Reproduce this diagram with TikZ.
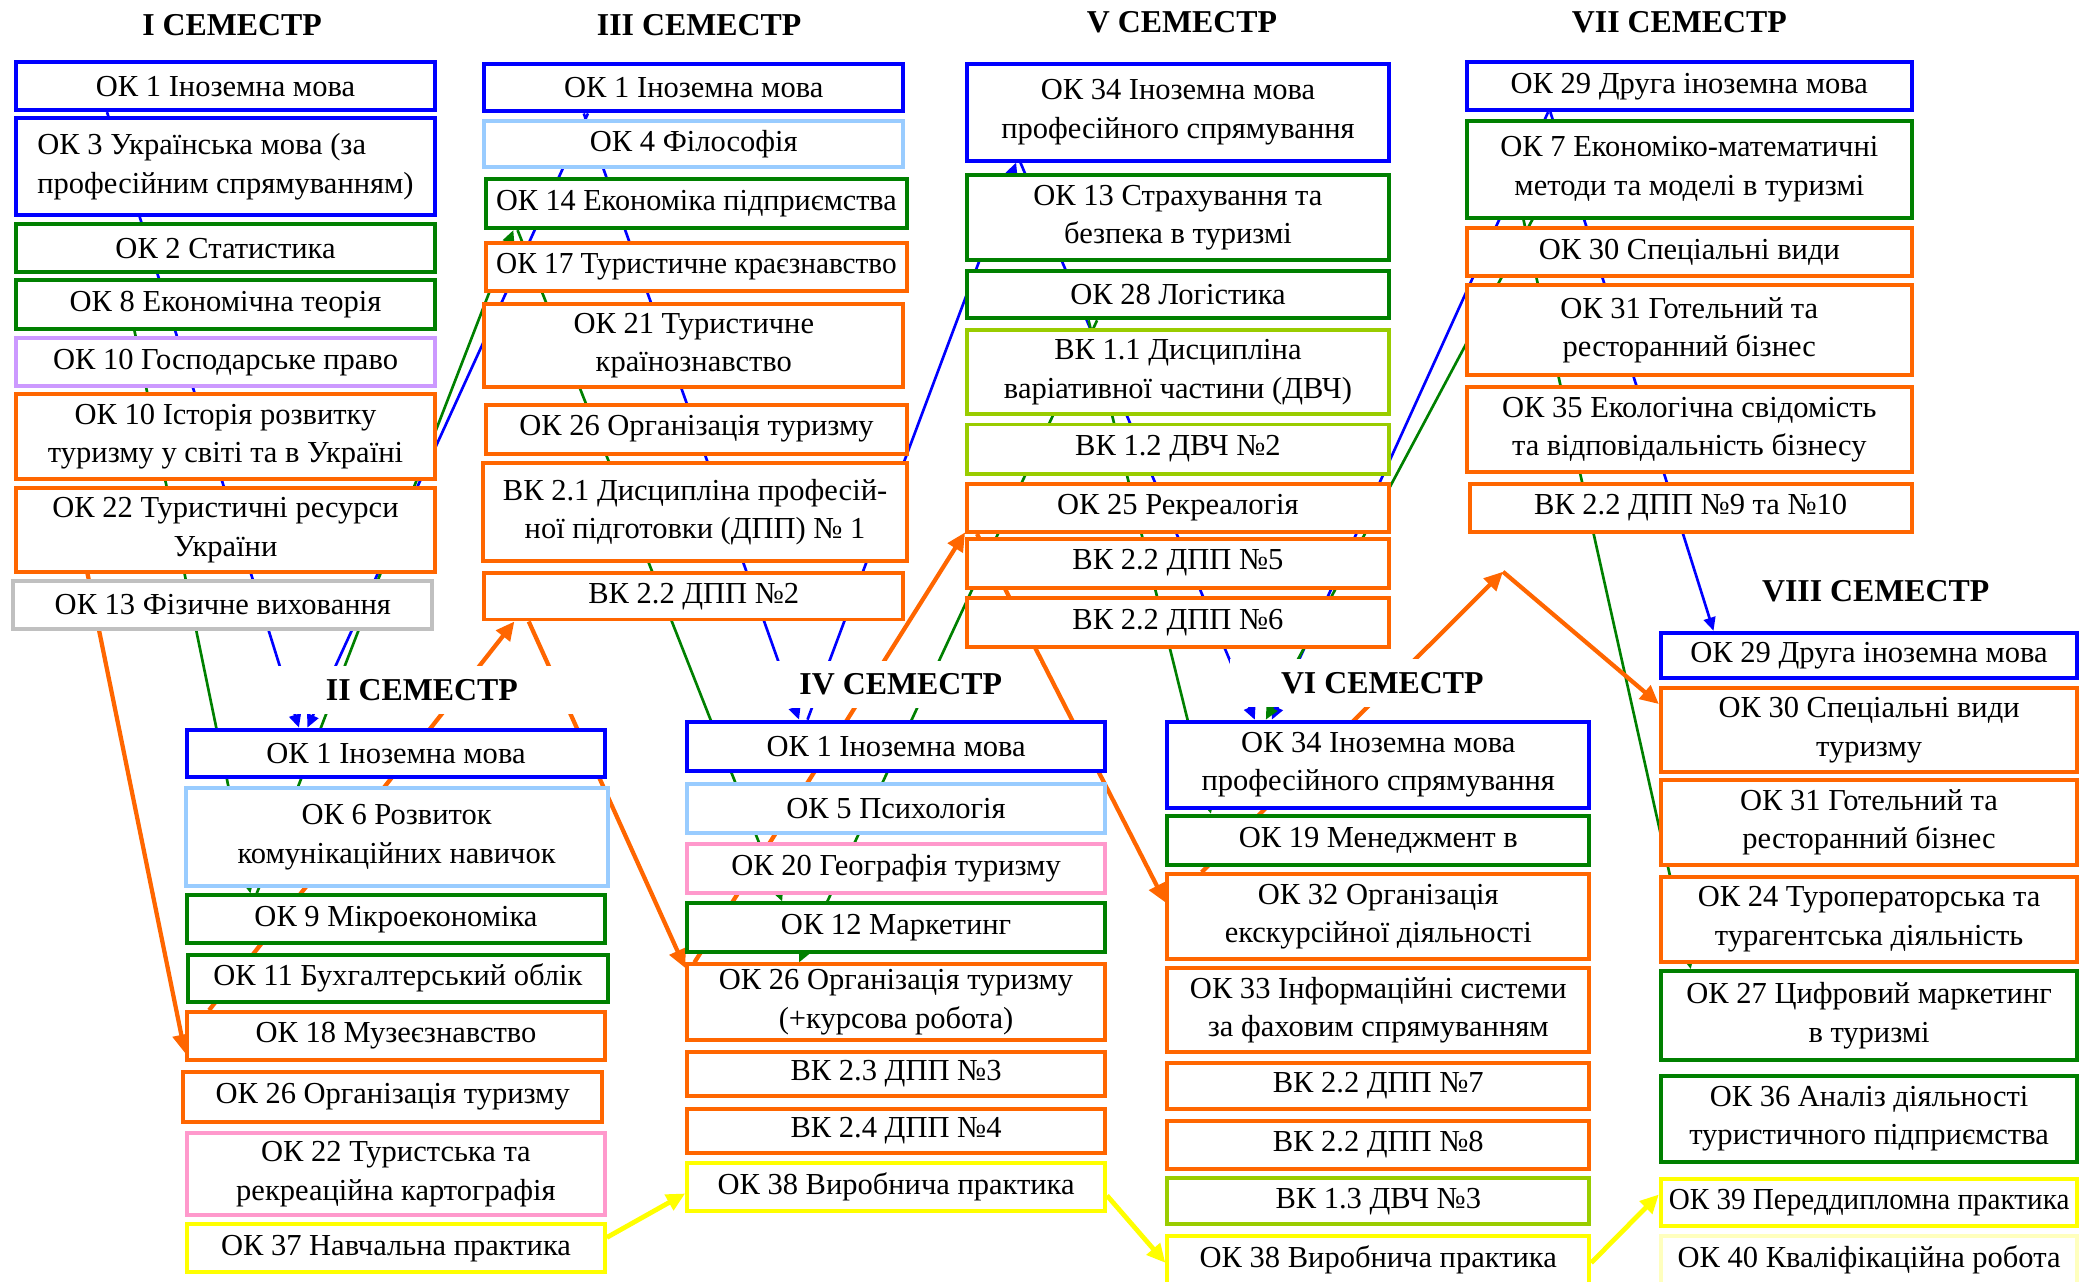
\documentclass[tikz,border=0pt]{standalone}
\usepackage{fontspec}
\setmainfont{Liberation Serif}
\usepackage{graphicx}
\usetikzlibrary{arrows.meta,calc,backgrounds}

\definecolor{cblue}{RGB}{0,0,255}
\definecolor{clblue}{RGB}{153,204,255}
\definecolor{cgreen}{RGB}{0,128,0}
\definecolor{corange}{RGB}{255,102,0}
\definecolor{clav}{RGB}{204,153,255}
\definecolor{cgrey}{RGB}{192,192,192}
\definecolor{cpink}{RGB}{255,153,204}
\definecolor{clime}{RGB}{153,204,0}
\definecolor{cyellow}{RGB}{255,255,0}
\definecolor{cpale}{RGB}{255,255,190}

\newcommand\bxfont{\fontsize{11.5}{14.5}\selectfont}
\newcommand\ttlfont{\fontsize{12}{14}\selectfont\bfseries}

\newlength\fitw
\setlength\fitw{151pt}
\newsavebox\fitbox
\newcommand\Ln[1]{\sbox\fitbox{#1}\ifdim\wd\fitbox>\fitw\relax\pgfmathsetmacro\fitfac{\the\fitw/\the\wd\fitbox}\scalebox{\fitfac}[1]{\usebox\fitbox}\else\usebox\fitbox\fi}

\tikzset{
  box/.style={draw, fill=white, line width=1.5pt, inner sep=1pt, align=center, font=\bxfont, text=black},
  bBlue/.style={draw=cblue}, bLBlue/.style={draw=clblue}, bGreen/.style={draw=cgreen},
  bOrange/.style={draw=corange}, bLav/.style={draw=clav}, bGrey/.style={draw=cgrey},
  bPink/.style={draw=cpink}, bLime/.style={draw=clime}, bYellow/.style={draw=cyellow},
  bPale/.style={draw=cpale},
  ttl/.style={font=\ttlfont, inner sep=0pt, fill=white},
  conB/.style={draw=cblue, line width=1pt, -{Triangle[length=5pt,width=4.5pt]}},
  conG/.style={draw=cgreen, line width=1pt, -{Triangle[length=5pt,width=4.5pt]}},
  conO/.style={draw=corange, line width=1.6pt, -{Triangle[length=7pt,width=6.5pt]}},
  conY/.style={draw=cyellow, line width=1.8pt, -{Triangle[length=7pt,width=6.5pt]}},
}

\newcommand\bx[7]{%
  \pgfmathsetmacro\bxw{(#5-#3)*0.5}%
  \pgfmathsetmacro\bxh{(#6-#4)*0.5}%
  \pgfmathsetmacro\bxx{(#3+#5)/2}%
  \pgfmathsetmacro\bxy{(#4+#6)/2}%
  \node[box,#2,minimum width=\bxw pt,minimum height=\bxh pt] (#1) at (\bxx,\bxy) {#7};}

\begin{document}
\begin{tikzpicture}[x=0.5pt,y=-0.5pt]
\useasboundingbox (0,0) rectangle (1568,966);

% titles
\node[ttl] (tI)    at (175,19)   {I СЕМЕСТР};
\node[ttl] (tIII)  at (527,19)   {III СЕМЕСТР};
\node[ttl] (tV)    at (891,17)   {V СЕМЕСТР};
\node[ttl] (tVII)  at (1266,17)  {VII СЕМЕСТР};
\node[ttl,minimum width=120pt,minimum height=18pt] (tII) at (318,520) {II СЕМЕСТР};
\node[ttl,minimum width=105pt,minimum height=18pt] (tIV) at (679,516) {IV СЕМЕСТР};
\node[ttl,minimum width=115pt,minimum height=18pt] (tVI) at (1042,515) {VI СЕМЕСТР};
\node[ttl] (tVIII) at (1414,446) {VIII СЕМЕСТР};

% semester I
\bx{I1}{bBlue}{12}{47}{328}{83}{\Ln{ОК 1 Іноземна мова}}
\bx{I2}{bBlue,align=left}{12}{89}{328}{162}{\Ln{ОК 3 Українська мова (за}\\\Ln{професійним спрямуванням)}}
\bx{I3}{bGreen}{12}{169}{328}{205}{\Ln{ОК 2 Статистика}}
\bx{I4}{bGreen}{12}{211}{328}{248}{\Ln{ОК 8 Економічна теорія}}
\bx{I5}{bLav}{12}{255}{328}{291}{\Ln{ОК 10 Господарське право}}
\bx{I6}{bOrange}{12}{297}{328}{361}{\Ln{ОК 10 Історія розвитку}\\\Ln{туризму у світі та в Україні}}
\bx{I7}{bOrange}{12}{368}{328}{431}{\Ln{ОК 22 Туристичні ресурси}\\\Ln{України}}
\bx{I8}{bGrey}{10}{438}{326}{474}{\Ln{ОК 13 Фізичне виховання}}

% semester III
\bx{T1}{bBlue}{365}{48}{681}{84}{\Ln{ОК 1 Іноземна мова}}
\bx{T2}{bLBlue}{365}{91}{681}{126}{\Ln{ОК 4 Філософія}}
\bx{T3}{bGreen}{366}{135}{684}{172}{\Ln{ОК 14 Економіка підприємства}}
\bx{T4}{bOrange}{366}{183}{684}{219}{\Ln{ОК 17 Туристичне краєзнавство}}
\bx{T5}{bOrange}{365}{229}{681}{292}{\Ln{ОК 21 Туристичне}\\\Ln{країнознавство}}
\bx{T6}{bOrange}{366}{305}{684}{342}{\Ln{ОК 26 Організація туризму}}
\bx{T7}{bOrange}{364}{349}{684}{423}{\Ln{ВК 2.1 Дисципліна професій-}\\\Ln{ної підготовки (ДПП) № 1}}
\bx{T8}{bOrange}{365}{432}{681}{467}{\Ln{ВК 2.2 ДПП №2}}

% semester V
\bx{F1}{bBlue}{729}{48}{1047}{121}{\Ln{ОК 34 Іноземна мова}\\\Ln{професійного спрямування}}
\bx{F2}{bGreen}{729}{132}{1047}{196}{\Ln{ОК 13 Страхування та}\\\Ln{безпека в туризмі}}
\bx{F3}{bGreen}{729}{204}{1047}{240}{\Ln{ОК 28 Логістика}}
\bx{F4}{bLime}{729}{249}{1047}{312}{\Ln{ВК 1.1 Дисципліна}\\\Ln{варіативної частини (ДВЧ)}}
\bx{F5}{bLime}{729}{320}{1047}{357}{\Ln{ВК 1.2 ДВЧ №2}}
\bx{F6}{bOrange}{729}{365}{1047}{401}{\Ln{ОК 25 Рекреалогія}}
\bx{F7}{bOrange}{729}{406}{1047}{443}{\Ln{ВК 2.2 ДПП №5}}
\bx{F8}{bOrange}{729}{451}{1047}{488}{\Ln{ВК 2.2 ДПП №6}}

% semester VII
\bx{S1}{bBlue}{1106}{47}{1441}{83}{\Ln{ОК 29 Друга іноземна мова}}
\bx{S2}{bGreen}{1106}{91}{1441}{164}{\Ln{ОК 7 Економіко-математичні}\\\Ln{методи та моделі в туризмі}}
\bx{S3}{bOrange}{1106}{172}{1441}{208}{\Ln{ОК 30 Спеціальні види}}
\bx{S4}{bOrange}{1106}{215}{1441}{283}{\Ln{ОК 31 Готельний та}\\\Ln{ресторанний бізнес}}
\bx{S5}{bOrange}{1106}{292}{1441}{356}{\Ln{ОК 35 Екологічна свідомість}\\\Ln{та відповідальність бізнесу}}
\bx{S6}{bOrange}{1108}{365}{1441}{401}{\Ln{ВК 2.2 ДПП №9 та №10}}

% semester II
\bx{II1}{bBlue}{141}{550}{456}{586}{\Ln{ОК 1 Іноземна мова}}
\bx{II2}{bLBlue}{140}{594}{458}{668}{\Ln{ОК 6 Розвиток}\\\Ln{комунікаційних навичок}}
\bx{II3}{bGreen}{141}{675}{456}{711}{\Ln{ОК 9 Мікроекономіка}}
\bx{II4}{bGreen}{142}{720}{458}{755}{\Ln{ОК 11 Бухгалтерський облік}}
\bx{II5}{bOrange}{141}{763}{456}{799}{\Ln{ОК 18 Музеєзнавство}}
\bx{II6}{bOrange}{138}{808}{454}{846}{\Ln{ОК 26 Організація туризму}}
\bx{II7}{bPink}{141}{854}{456}{916}{\Ln{ОК 22 Туристська та}\\\Ln{рекреаційна картографія}}
\bx{II8}{bYellow}{141}{923}{456}{959}{\Ln{ОК 37 Навчальна практика}}

% semester IV
\bx{IV1}{bBlue}{518}{544}{833}{581}{\Ln{ОК 1 Іноземна мова}}
\bx{IV2}{bLBlue}{518}{591}{833}{628}{\Ln{ОК 5 Психологія}}
\bx{IV3}{bPink}{518}{636}{833}{673}{\Ln{ОК 20 Географія туризму}}
\bx{IV4}{bGreen}{518}{681}{833}{718}{\Ln{ОК 12 Маркетинг}}
\bx{IV5}{bOrange}{518}{727}{833}{784}{\Ln{ОК 26 Організація туризму}\\\Ln{(+курсова робота)}}
\bx{IV6}{bOrange}{518}{793}{833}{826}{\Ln{ВК 2.3 ДПП №3}}
\bx{IV7}{bOrange}{518}{836}{833}{869}{\Ln{ВК 2.4 ДПП №4}}
\bx{IV8}{bYellow}{518}{877}{833}{913}{\Ln{ОК 38 Виробнича практика}}

% semester VI
\bx{VI1}{bBlue}{880}{544}{1198}{609}{\Ln{ОК 34 Іноземна мова}\\\Ln{професійного спрямування}}
\bx{VI2}{bGreen}{880}{615}{1198}{652}{\Ln{ОК 19 Менеджмент в}}
\bx{VI3}{bOrange}{880}{659}{1198}{723}{\Ln{ОК 32 Організація}\\\Ln{екскурсійної діяльності}}
\bx{VI4}{bOrange}{880}{730}{1198}{793}{\Ln{ОК 33 Інформаційні системи}\\\Ln{за фаховим спрямуванням}}
\bx{VI5}{bOrange}{880}{801}{1198}{836}{\Ln{ВК 2.2 ДПП №7}}
\bx{VI6}{bOrange}{880}{845}{1198}{881}{\Ln{ВК 2.2 ДПП №8}}
\bx{VI7}{bLime}{880}{888}{1198}{923}{\Ln{ВК 1.3 ДВЧ №3}}
\bx{VI8}{bYellow}{880}{932}{1198}{968}{\Ln{ОК 38 Виробнича практика}}

% semester VIII
\bx{E1}{bBlue}{1252}{477}{1566}{511}{\Ln{ОК 29 Друга іноземна мова}}
\bx{E2}{bOrange}{1252}{519}{1566}{582}{\Ln{ОК 30 Спеціальні види}\\\Ln{туризму}}
\bx{E3}{bOrange}{1252}{588}{1566}{652}{\Ln{ОК 31 Готельний та}\\\Ln{ресторанний бізнес}}
\bx{E4}{bOrange}{1252}{661}{1566}{725}{\Ln{ОК 24 Туроператорська та}\\\Ln{турагентська діяльність}}
\bx{E5}{bGreen}{1252}{732}{1566}{799}{\Ln{ОК 27 Цифровий маркетинг}\\\Ln{в туризмі}}
\bx{E6}{bGreen}{1252}{811}{1566}{876}{\Ln{ОК 36 Аналіз діяльності}\\\Ln{туристичного підприємства}}
\bx{E7}{bYellow}{1252}{889}{1566}{924}{\Ln{ОК 39 Переддипломна практика}}
\bx{E8}{bPale}{1252}{932}{1566}{968}{\Ln{ОК 40 Кваліфікаційна робота}}

\coordinate (apex) at (1133,431);

\begin{scope}[on background layer]
% blue
\draw[conB] ($(I1.south west)!0.22!(I1.south east)$) -- ($(II1.north west)!0.27!(II1.north east)$);
\draw[conB] ($(T1.south west)!0.25!(T1.south east)$) -- ($(II1.north west)!0.29!(II1.north east)$);
\draw[conB] ($(T1.south west)!0.24!(T1.south east)$) -- ($(IV1.north west)!0.27!(IV1.north east)$);
\draw[conB] ($(IV1.north west)!0.29!(IV1.north east)$) -- ($(F1.south west)!0.12!(F1.south east)$);
\draw[conB] ($(F1.south west)!0.13!(F1.south east)$) -- ($(VI1.north west)!0.21!(VI1.north east)$);
\draw[conB] ($(S1.south west)!0.185!(S1.south east)$) -- ($(VI1.north west)!0.25!(VI1.north east)$);
\draw[conB] ($(S1.south west)!0.19!(S1.south east)$) -- ($(E1.north west)!0.13!(E1.north east)$);
% green
\draw[conG] ($(II3.north west)!0.17!(II3.north east)$) -- ($(T3.south west)!0.07!(T3.south east)$);
\draw[conG] ($(I4.south west)!0.285!(I4.south east)$) -- ($(II3.north west)!0.155!(II3.north east)$);
\draw[conG] ($(T3.south west)!0.08!(T3.south east)$) -- ($(IV4.north west)!0.23!(IV4.north east)$);
\draw[conG] ($(F3.south west)!0.31!(F3.south east)$) -- ($(IV5.north west)!0.27!(IV5.north east)$);
\draw[conG] ($(F3.south west)!0.29!(F3.south east)$) -- ($(VI2.north west)!0.107!(VI2.north east)$);
\draw[conG] ($(S2.south west)!0.15!(S2.south east)$) -- ($(VI1.north west)!0.236!(VI1.north east)$);
\draw[conG] ($(S2.south west)!0.13!(S2.south east)$) -- ($(E5.north west)!0.076!(E5.north east)$);
% orange
\draw[conO] ($(I7.south west)!0.174!(I7.south east)$) -- ($(II5.north west)!0.83!(II5.south west)$);
\draw[conO] ($(II5.north west)!0.057!(II5.north east)$) -- ($(T8.south west)!0.076!(T8.south east)$);
\draw[conO] ($(T8.south west)!0.11!(T8.south east)$) -- ($(IV5.north west)!0.07!(IV5.south west)$);
\draw[conO] ($(IV5.north west)!0.022!(IV5.north east)$) -- ($(F6.north west)!0.97!(F6.south west)$);
\draw[conO] ($(F6.south west)!0.028!(F6.south east)$) -- ($(VI3.north west)!0.34!(VI3.south west)$);
\draw[conO] ($(VI3.north west)!0.085!(VI3.north east)$) -- (apex);
\draw[conO] (apex) -- ($(E2.north west)!0.2!(E2.south west)$);
% yellow
\draw[conY] ($(II8.north east)!0.29!(II8.south east)$) -- ($(IV8.north west)!0.62!(IV8.south west)$);
\draw[conY] ($(IV8.north east)!0.66!(IV8.south east)$) -- ($(VI8.north west)!0.55!(VI8.south west)$);
\draw[conY] ($(VI8.north east)!0.55!(VI8.south east)$) -- ($(E7.north west)!0.34!(E7.south west)$);
\end{scope}
\end{tikzpicture}
\end{document}
